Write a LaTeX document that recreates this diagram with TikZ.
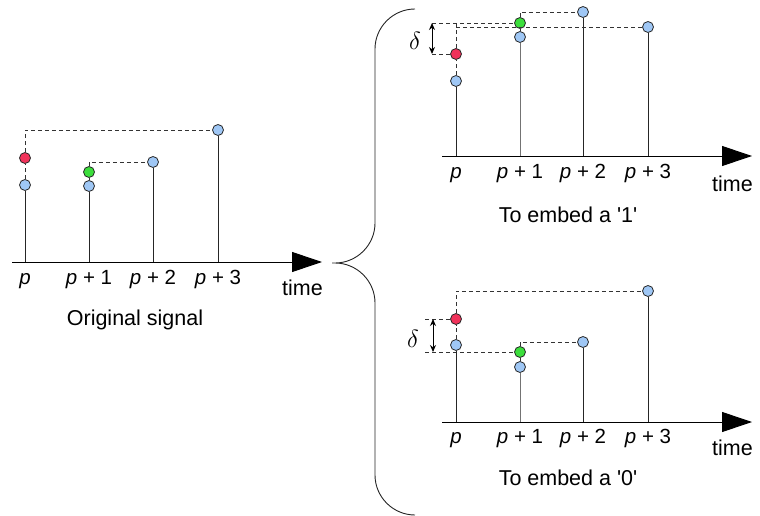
\documentclass[tikz,border=0pt]{standalone}
\usepackage{fontspec}
\setmainfont{Liberation Sans}[Ligatures=TeXOff]
\usetikzlibrary{arrows.meta}

\definecolor{ptblue}{RGB}{159,199,245}
\definecolor{ptred}{RGB}{240,50,90}
\definecolor{ptgreen}{RGB}{60,222,60}
\definecolor{ptedge}{RGB}{40,40,40}

\tikzset{
  sample/.style={circle, draw=ptedge, line width=0.8pt, minimum size=11pt, inner sep=0pt},
  orig/.style={sample, fill=ptblue},
  up/.style={sample, fill=ptred},
  mid/.style={sample, fill=ptgreen},
  stem/.style={line width=0.9pt, draw=black!85},
  stemgray/.style={line width=0.9pt, draw=black!55},
  guide/.style={line width=0.8pt, draw=black!80, dash pattern=on 4pt off 3pt},
  timeaxis/.style={line width=1pt, -{Triangle[length=30pt,width=20pt]}},
  gap/.style={line width=1pt, {Stealth[length=7pt,width=6pt]}-{Stealth[length=7pt,width=6pt]}},
  tick/.style={anchor=base, inner sep=0pt, font=\fontsize{20.5}{24}\selectfont},
  caption/.style={anchor=base, inner sep=0pt, font=\fontsize{21.5}{26}\selectfont},
  axlabel/.style={anchor=base west, inner sep=0pt, font=\fontsize{21.5}{26}\selectfont},
  deltalabel/.style={inner sep=0pt, font=\fontsize{26}{30}\selectfont},
}

\begin{document}
\begin{tikzpicture}[x=1pt, y=-1pt]
\useasboundingbox (0,0) rectangle (760,516);

% ---------- original signal ----------
\coordinate (La) at (12,262);
\coordinate (Lb) at (322,262);
\draw[timeaxis] (La) -- (Lb);
\coordinate (L0s) at (25,262);
\coordinate (L1s) at (89,262);
\coordinate (L2s) at (153,262);
\coordinate (L3s) at (218,262);
\coordinate (L0t) at (25,130);
\coordinate (L1t) at (89,162);

\node[orig] (L0b) at (25,185) {};
\node[up]   (L0r) at (25,158) {};
\node[orig] (L1b) at (89,186) {};
\node[mid]  (L1g) at (89,172) {};
\node[orig] (L2)  at (153,162) {};
\node[orig] (L3)  at (218,130) {};

\draw[stem] (L0s) -- (L0b);
\draw[stem] (L1s) -- (L1b);
\draw[stem] (L2s) -- (L2);
\draw[stem] (L3s) -- (L3);
\draw[guide] (L0b) -- (L0r);
\draw[guide] (L0r) -- (L0t) -- (L3);
\draw[guide] (L1b) -- (L1g);
\draw[guide] (L1g) -- (L1t) -- (L2);

\node[tick] (Lp0) at (25,284) {\textit{p}};
\node[tick] (Lp1) at (89,284) {\textit{p} + 1};
\node[tick] (Lp2) at (153,284) {\textit{p} + 2};
\node[tick] (Lp3) at (218,284) {\textit{p} + 3};
\node[axlabel] (Ltime) at (282,295) {time};
\node[caption] (Lcap) at (135,325) {Original signal};

% ---------- brace ----------
\draw[line width=0.9pt, draw=black!85]
  (415,9) .. controls (393,9) and (375,27) .. (375,49)
  -- (375,223) .. controls (375,245) and (357,263) .. (335,263)
  -- (332,263) -- (335,263)
  .. controls (357,263) and (375,281) .. (375,303)
  -- (375,475) .. controls (375,497) and (393,515) .. (415,515);

% ---------- embedding a '1' ----------
\coordinate (Ta) at (442,156);
\coordinate (Tb) at (752,156);
\draw[timeaxis] (Ta) -- (Tb);
\coordinate (T0s) at (456,156);
\coordinate (T1s) at (520,156);
\coordinate (T2s) at (583,156);
\coordinate (T3s) at (648,156);

\node[orig] (T0b) at (456,81) {};
\node[up]   (T0r) at (456,54) {};
\node[orig] (T1b) at (520,37) {};
\node[mid]  (T1g) at (520,23) {};
\node[orig] (T2)  at (583,12) {};
\node[orig] (T3)  at (648,27) {};

\coordinate (T1t) at (520,12);
\coordinate (Thi) at (432,23);
\coordinate (Tlo) at (432,54);
\coordinate (Tk)  at (456,23);
\coordinate (Tj)  at (456,27);

\draw[stem] (T0s) -- (T0b);
\draw[stemgray] (T1s) -- (T1b);
\draw[stem] (T2s) -- (T2);
\draw[stem] (T3s) -- (T3);
\draw[guide] (T0b) -- (T0r);
\draw[guide] (Tk) -- (T0r);
\draw[guide] (Thi) -- (T1g);
\draw[guide] (Tj) -- (T3);
\draw[guide] (Tlo) -- (T0r);
\draw[guide] (T1b) -- (T1g);
\draw[guide] (T1g) -- (T1t) -- (T2);
\draw[gap] (Thi) -- (Tlo);
\node[deltalabel] (Tdelta) at (415,41) {$\delta$};

\node[tick] (Tp0) at (456,178) {\textit{p}};
\node[tick] (Tp1) at (520,178) {\textit{p} + 1};
\node[tick] (Tp2) at (583,178) {\textit{p} + 2};
\node[tick] (Tp3) at (648,178) {\textit{p} + 3};
\node[axlabel] (Ttime) at (712,191) {time};
\node[caption] (Tcap) at (568,222) {To embed a '1'};

% ---------- embedding a '0' ----------
\coordinate (Ba) at (442,422);
\coordinate (Bb) at (752,422);
\draw[timeaxis] (Ba) -- (Bb);
\coordinate (B0s) at (456,422);
\coordinate (B1s) at (520,422);
\coordinate (B2s) at (583,422);
\coordinate (B3s) at (648,422);

\node[orig] (B0b) at (456,345) {};
\node[up]   (B0r) at (456,319) {};
\node[orig] (B1b) at (520,367) {};
\node[mid]  (B1g) at (520,352) {};
\node[orig] (B2)  at (583,342) {};
\node[orig] (B3)  at (648,291) {};

\coordinate (B0t) at (456,291);
\coordinate (B1t) at (520,342);
\coordinate (Bhi) at (425,319);
\coordinate (Blo) at (425,352);
\coordinate (Bah) at (433,319);
\coordinate (Bal) at (433,352);

\draw[guide] (Blo) -- (B1g);
\draw[stem] (B0s) -- (B0b);
\draw[stemgray] (B1s) -- (B1b);
\draw[stem] (B2s) -- (B2);
\draw[stem] (B3s) -- (B3);
\draw[guide] (B0b) -- (B0r);
\draw[guide] (B0r) -- (B0t) -- (B3);
\draw[guide] (Bhi) -- (B0r);
\draw[guide] (B1b) -- (B1g);
\draw[guide] (B1g) -- (B1t) -- (B2);
\draw[gap] (Bah) -- (Bal);
\node[deltalabel] (Bdelta) at (413,339) {$\delta$};

\node[tick] (Bp0) at (456,443) {\textit{p}};
\node[tick] (Bp1) at (520,443) {\textit{p} + 1};
\node[tick] (Bp2) at (583,443) {\textit{p} + 2};
\node[tick] (Bp3) at (648,443) {\textit{p} + 3};
\node[axlabel] (Btime) at (712,455) {time};
\node[caption] (Bcap) at (568,485) {To embed a '0'};
\end{tikzpicture}
\end{document}
